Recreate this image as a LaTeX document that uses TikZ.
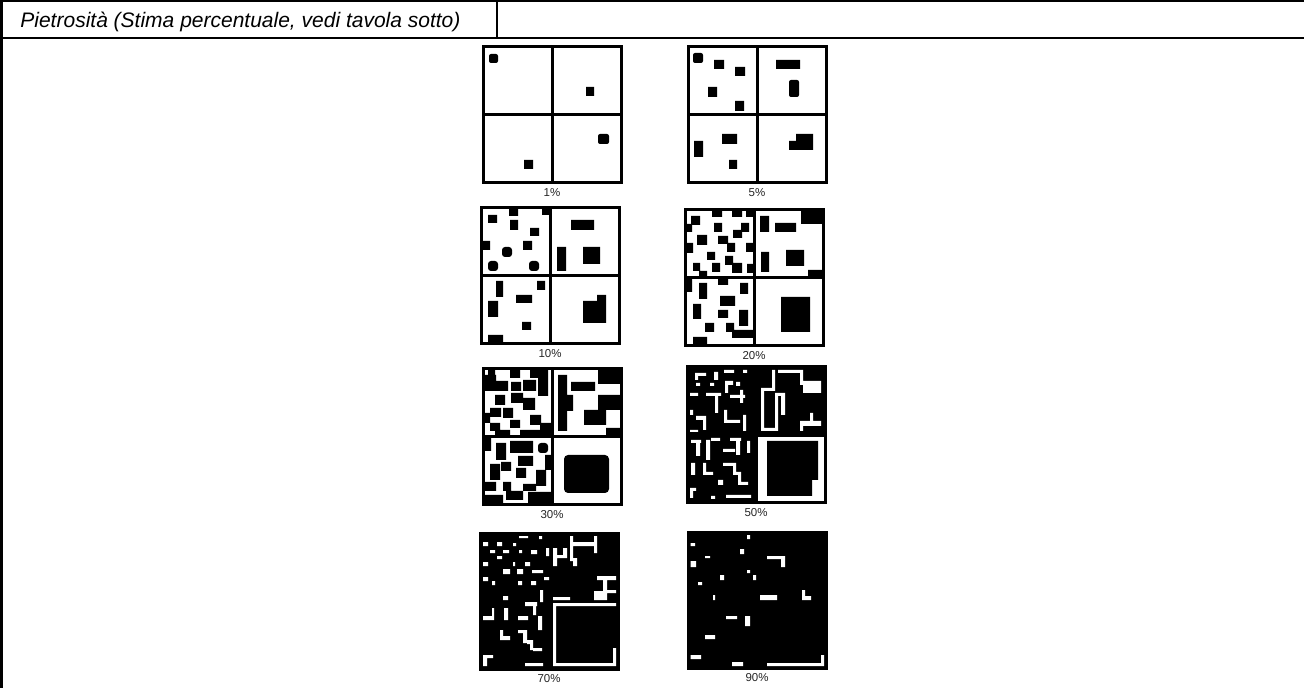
\documentclass[tikz,border=0pt]{standalone}
\usepackage{fontspec}
\setmainfont{Liberation Sans}
\usetikzlibrary{positioning}
\tikzset{
  % table and pattern styles
  tableline/.style={line width=1.2pt},
  pbox/.style={rectangle, draw=black, line width=1.5pt, minimum width=69pt, minimum height=68pt, inner sep=0pt, outer sep=0pt, anchor=north west, fill=#1},
  pbox/.default={white},
  crossline/.style={line width=1.5pt},
  plabel/.style={font=\fontsize{5.75}{6}\selectfont, inner sep=0pt, text=black!85},
  stone/.style={fill=black},
  hole/.style={fill=white},
}
\begin{document}
\begin{tikzpicture}[x=0.5pt, y=-0.5pt]
  \useasboundingbox (0,0) rectangle (1304,688);

  % Table frame
  \draw[tableline] (0,1.2) -- (1304,1.2);
  \draw[tableline] (0,38) -- (1304,38);
  \draw[tableline] (1.5,0) -- (1.5,688);
  \draw[tableline] (497,0) -- (497,38);
  \node[anchor=base west, inner sep=0pt, font=\fontsize{10.5}{12}\selectfont\itshape] (title) at (20,27.5) {Pietrosità (Stima percentuale, vedi tavola sotto)};

  % 1%
  \node[pbox] (p1) at (483,47) {};
  \begin{scope}[shift={(p1.north west)}]
    \fill[stone, rounded corners=1pt] (6,7) rectangle (15,16);
    \fill[stone] (103,40) rectangle (111,49) (41,113) rectangle (50,122);
    \fill[stone, rounded corners=1pt] (115,87) rectangle (126,97);
  \end{scope}
  \draw[crossline] (p1.north) -- (p1.south) (p1.west) -- (p1.east);
  \node[plabel, below=2.4pt of p1] (l1) {1\%};

  % 5%
  \node[pbox] (p2) at (688,47) {};
  \begin{scope}[shift={(p2.north west)}]
    \fill[stone, rounded corners=1pt] (5,6) rectangle (15,16) (101,33) rectangle (111,50);
    \fill[stone] (26,13) rectangle (36,22) (47,20) rectangle (57,29) (20,40) rectangle (29,50)
      (47,54) rectangle (56,64) (88,13) rectangle (112,22)
      (6,94) rectangle (15,110) (34,87) rectangle (49,97) (41,113) rectangle (49,122)
      (101,94) rectangle (125,103) (108,87) rectangle (125,103);
  \end{scope}
  \draw[crossline] (p2.north) -- (p2.south) (p2.west) -- (p2.east);
  \node[plabel, below=2.4pt of p2] (l2) {5\%};

  % 10%
  \node[pbox] (p3) at (481,208) {};
  \begin{scope}[shift={(p3.north west)}]
    \fill[stone] (7,7) rectangle (16,15) (28,1) rectangle (37,8) (61,1) rectangle (70,7)
      (29,12) rectangle (37,22) (49,20) rectangle (58,28) (1,33) rectangle (9,42)
      (42,33) rectangle (51,42) (90,12) rectangle (113,22) (76,39) rectangle (85,63)
      (102,39) rectangle (119,56) (15,73) rectangle (22,89) (56,73) rectangle (64,82)
      (35,87) rectangle (51,95) (7,93) rectangle (17,109) (41,114) rectangle (50,122)
      (7,127) rectangle (22,135) (102,93) rectangle (125,115) (116,87) rectangle (125,94);
    \fill[stone, rounded corners=1.5pt] (21,39) rectangle (31,49) (7,53) rectangle (17,63) (48,53) rectangle (58,63);
  \end{scope}
  \draw[crossline] (p3.north) -- (p3.south) (p3.west) -- (p3.east);
  \node[plabel, below=2.4pt of p3] (l3) {10\%};

  % 20%
  \node[pbox] (p4) at (685,210) {};
  \begin{scope}[shift={(p4.north west)}]
    \fill[stone] (6,6) rectangle (15,15) (0,14) rectangle (7,22) (27,1) rectangle (37,7)
      (47,1) rectangle (57,7) (61,1) rectangle (69,7) (29,13) rectangle (37,22)
      (56,13) rectangle (64,22) (48,20) rectangle (57,28) (12,25) rectangle (22,35)
      (33,26) rectangle (43,34) (42,33) rectangle (50,42) (0,33) rectangle (8,43)
      (61,33) rectangle (69,42) (22,42) rectangle (30,50) (40,46) rectangle (48,55)
      (8,53) rectangle (15,61) (27,53) rectangle (35,62) (47,53) rectangle (57,63)
      (62,54) rectangle (70,63) (14,61) rectangle (22,68)
      (75,6) rectangle (84,22) (90,13) rectangle (111,22) (116,1) rectangle (137,14)
      (76,42) rectangle (84,62) (101,40) rectangle (119,56) (123,60) rectangle (137,68)
      (0,69) rectangle (7,82) (14,73) rectangle (22,89) (33,69) rectangle (43,75)
      (55,73) rectangle (63,84) (35,86) rectangle (50,96) (8,94) rectangle (16,109)
      (33,100) rectangle (43,108) (54,100) rectangle (63,116) (20,113) rectangle (29,122)
      (41,113) rectangle (49,122) (47,120) rectangle (69,128) (8,127) rectangle (22,136)
      (96,87) rectangle (125,122);
  \end{scope}
  \draw[crossline] (p4.north) -- (p4.south) (p4.west) -- (p4.east);
  \node[plabel, below=2.4pt of p4] (l4) {20\%};

  % 30%
  \node[pbox] (p5) at (483,369) {};
  \begin{scope}[shift={(p5.north west)}]
    \fill[stone] (0,6) rectangle (13,22) (5,1) rectangle (12,6) (27,1) rectangle (37,9)
      (47,1) rectangle (65,9) (13,12) rectangle (25,22) (28,13) rectangle (38,22)
      (40,11) rectangle (53,22) (55,9) rectangle (65,27) (12,26) rectangle (22,36)
      (28,24) rectangle (40,34) (40,29) rectangle (52,41) (7,39) rectangle (18,48)
      (20,39) rectangle (30,49) (47,46) rectangle (58,56) (27,51) rectangle (37,59)
      (7,54) rectangle (17,62) (12,61) rectangle (27,69) (37,61) rectangle (57,69)
      (57,54) rectangle (69,69) (0,44) rectangle (7,54)
      (75,6) rectangle (84,30) (88,13) rectangle (112,22) (115,1) rectangle (138,15)
      (75,26) rectangle (90,42) (75,42) rectangle (84,62) (101,41) rectangle (123,56)
      (115,26) rectangle (138,41) (123,59) rectangle (138,69)
      (0,69) rectangle (8,82) (13,74) rectangle (23,91) (27,72) rectangle (50,84)
      (35,87) rectangle (50,97) (62,86) rectangle (69,101) (18,93) rectangle (28,102)
      (7,95) rectangle (17,111) (33,99) rectangle (43,109) (53,101) rectangle (63,117)
      (0,113) rectangle (13,122) (20,113) rectangle (28,122) (40,115) rectangle (53,122)
      (0,126) rectangle (20,136) (23,122) rectangle (40,131) (45,123) rectangle (69,136);
    \fill[stone, rounded corners=1.5pt] (55,74) rectangle (65,84);
    \fill[stone, rounded corners=2pt] (81,86) rectangle (126,124);
  \end{scope}
  \draw[crossline] (p5.north) -- (p5.south) (p5.west) -- (p5.east);
  \node[plabel, below=2.4pt of p5] (l5) {30\%};

  % 50%
  \node[pbox=black] (p6) at (687,367) {};
  \begin{scope}[shift={(p6.north west)}]
    \fill[hole] (37,3) rectangle (47,6) (56,3) rectangle (60,6) (8,6) rectangle (19,9)
      (8,6) rectangle (11,13) (27,5) rectangle (31,13) (9,16) rectangle (13,19)
      (23,16) rectangle (27,19) (49,15) rectangle (53,19) (38,14) rectangle (46,18)
      (38,14) rectangle (41,26) (3,26) rectangle (11,29) (19,26) rectangle (34,29)
      (28,26) rectangle (31,46) (43,28) rectangle (58,31) (53,23) rectangle (56,36)
      (3,43) rectangle (6,48) (9,49) rectangle (19,53) (16,49) rectangle (19,63)
      (37,43) rectangle (40,56) (37,53) rectangle (53,56) (56,48) rectangle (59,64)
      (3,63) rectangle (11,65)
      (85,3) rectangle (88,24) (74,21) rectangle (88,24) (74,21) rectangle (77,64)
      (74,61) rectangle (88,64) (88,28) rectangle (91,64) (88,26) rectangle (98,29)
      (94,26) rectangle (98,48) (91,3) rectangle (114,6) (113,3) rectangle (116,18)
      (116,14) rectangle (134,26) (123,46) rectangle (126,59) (113,54) rectangle (134,59)
      (113,54) rectangle (116,64)
      (4,73) rectangle (14,76) (9,73) rectangle (13,89) (19,73) rectangle (23,93)
      (24,71) rectangle (33,74) (43,71) rectangle (54,74) (49,74) rectangle (53,88)
      (36,82) rectangle (48,85) (60,74) rectangle (63,86) (4,96) rectangle (8,108)
      (16,96) rectangle (19,108) (16,105) rectangle (26,108) (36,96) rectangle (49,99)
      (46,96) rectangle (49,108) (46,105) rectangle (54,108) (51,105) rectangle (54,118)
      (51,115) rectangle (61,118) (3,121) rectangle (9,124) (3,121) rectangle (6,131)
      (24,129) rectangle (28,132) (39,128) rectangle (64,131) (31,113) rectangle (36,118);
    \fill[hole] (71,70.5) rectangle (136.5,134.5);
    \fill[stone] (80,74) rectangle (125,129) (80,74) rectangle (131,113);
  \end{scope}
  \draw[crossline] (p6.north) -- (p6.south) (p6.west) -- (p6.east);
  \node[plabel, below=2.4pt of p6] (l6) {50\%};

  % 70%
  \node[pbox=black] (p7) at (480,533) {};
  \begin{scope}[shift={(p7.north west)}]
    \fill[hole] (39,3) rectangle (48,5) (59,3) rectangle (62,6) (3,9) rectangle (8,13)
      (17,9) rectangle (22,13) (33,10) rectangle (36,13) (10,17) rectangle (15,20)
      (23,17) rectangle (29,20) (39,17) rectangle (42,20) (51,17) rectangle (57,21)
      (66,15) rectangle (69,23) (17,23) rectangle (22,26) (3,29) rectangle (8,33)
      (33,29) rectangle (35,33) (45,29) rectangle (50,33) (23,36) rectangle (30,41)
      (37,36) rectangle (43,41) (52,37) rectangle (63,40) (3,44) rectangle (8,48)
      (12,48) rectangle (15,52) (38,48) rectangle (42,52) (51,48) rectangle (56,52)
      (64,44) rectangle (69,47) (23,63) rectangle (28,67)
      (90,3) rectangle (93,20) (90,9) rectangle (117,13) (114,3) rectangle (117,20)
      (73,15) rectangle (77,33) (73,22) rectangle (87,25) (83,15) rectangle (87,25)
      (90,20) rectangle (93,28) (93,25) rectangle (97,33) (117,43) rectangle (136,47)
      (123,43) rectangle (127,67) (125,57) rectangle (136,60) (114,58) rectangle (123,67)
      (73,64) rectangle (90,67)
      (60,57) rectangle (63,69) (45,69) rectangle (57,73) (53,73) rectangle (56,82)
      (3,83) rectangle (13,87) (12,75) rectangle (14,87) (24,75) rectangle (28,87)
      (38,83) rectangle (48,87) (58,83) rectangle (62,97) (20,97) rectangle (23,107)
      (20,103) rectangle (30,107) (38,97) rectangle (47,100) (43,97) rectangle (47,110)
      (47,107) rectangle (53,111) (50,107) rectangle (53,117) (53,115) rectangle (62,118)
      (3,122) rectangle (13,125) (3,122) rectangle (7,133) (45,130) rectangle (63,133)
      (73,70) rectangle (136,73) (73,70) rectangle (76,133) (73,130) rectangle (136,133)
      (133,115) rectangle (136,133);
  \end{scope}
  \node[plabel, below=2.4pt of p7] (l7) {70\%};

  % 90%
  \node[pbox=black] (p8) at (688,532) {};
  \begin{scope}[shift={(p8.north west)}]
    \fill[hole] (59,3) rectangle (62,7) (2.5,11) rectangle (7,14) (52,17) rectangle (56,22)
      (17,24) rectangle (22,26) (79,24) rectangle (96,27) (93,24) rectangle (97,35)
      (2.5,29) rectangle (8,35) (59,38) rectangle (62,41) (32,43) rectangle (36,48)
      (65,43) rectangle (68,48) (10,50) rectangle (14,53) (114,58) rectangle (117,68)
      (114,64) rectangle (123,68) (72,63) rectangle (89,68) (25,63) rectangle (27,68)
      (38,84) rectangle (49,87) (57,84) rectangle (62,94) (17,103) rectangle (27,107)
      (2.5,123) rectangle (13,127) (44,130) rectangle (55,134) (79,131) rectangle (136,134)
      (133,123) rectangle (136,134);
  \end{scope}
  \node[plabel, below=2.4pt of p8] (l8) {90\%};
\end{tikzpicture}
\end{document}
